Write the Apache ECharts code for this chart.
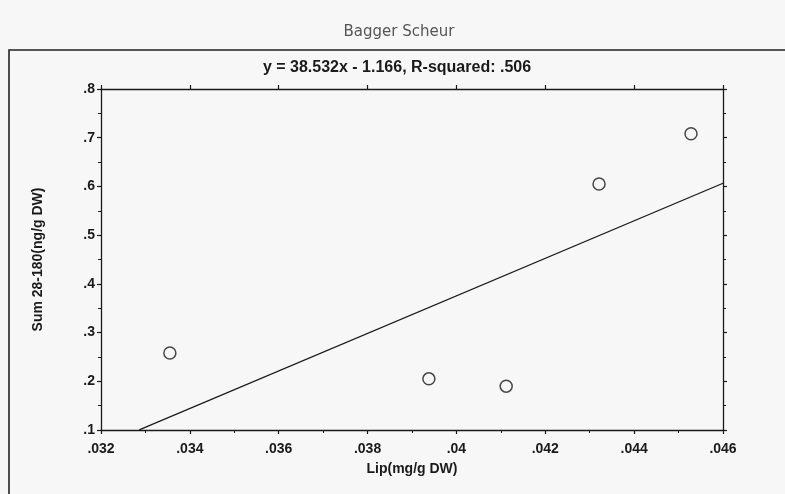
<!DOCTYPE html>
<html>
<head>
<meta charset="utf-8">
<script src="https://cdn.jsdelivr.net/npm/echarts@6/dist/echarts.min.js"></script>
<style>
  html, body { margin: 0; padding: 0; background: #f7f7f7; }
  #chart { width: 785px; height: 494px; }
</style>
</head>
<body>
<div id="chart"></div>
<script>
// Lipid content vs. summed PCB 28-180, Bagger Scheur samples
const lipValues = [0.03355, 0.03938, 0.04112, 0.04321, 0.04528];
const sumValues = [0.258, 0.205, 0.190, 0.605, 0.708];

// Fitted regression: y = 38.532x - 1.166
const fitSlope = 38.532;
const fitIntercept = -1.166;
const fitXRange = [0.03286, 0.046];

const xTicks = [0.032, 0.034, 0.036, 0.038, 0.040, 0.042, 0.044, 0.046];
const yTicks = [0.1, 0.2, 0.3, 0.4, 0.5, 0.6, 0.7, 0.8];

const points = lipValues.map((x, i) => [x, sumValues[i]]);
const fitLine = fitXRange.map(x => [x, fitSlope * x + fitIntercept]);

// ".032" style labels without the leading zero
const noLeadZero = v => {
  let s = String(+v.toFixed(4));
  return s.replace(/^0\./, '.');
};

const ink = '#1a1a1a';
const labelFont = { fontFamily: 'Liberation Sans, Arial, sans-serif', fontWeight: 'bold', fontSize: 14, color: ink };

const baseAxis = {
  axisLine: { show: true, lineStyle: { color: ink, width: 1.3 } },
  axisTick: { show: true, length: 4, lineStyle: { color: ink, width: 1.2 } },
  minorTick: { show: true, splitNumber: 2, length: 3, lineStyle: { color: ink, width: 1 } },
  splitLine: { show: false }
};

const chart = echarts.init(document.getElementById('chart'), null, { renderer: 'canvas' });
chart.setOption({
  backgroundColor: '#f7f7f7',
  animation: false,
  title: [
    {
      text: 'Bagger Scheur', left: 394, top: 20, textAlign: 'center',
      textStyle: { fontFamily: 'DejaVu Sans', fontWeight: 'normal', fontSize: 15, color: '#555' }
    },
    {
      text: 'y = 38.532x - 1.166, R-squared: .506', left: 392, top: 55, textAlign: 'center',
      textStyle: { fontFamily: 'Liberation Sans, sans-serif', fontWeight: 'bold', fontSize: 16, color: ink }
    }
  ],
  graphic: [
    {
      type: 'polyline',
      shape: { points: [[9, 494], [9, 50], [785, 50]] },
      style: { stroke: '#222', lineWidth: 1.6, fill: null }
    }
  ],
  grid: { left: 101, right: 62, top: 89, bottom: 64 },
  xAxis: [
    Object.assign({}, baseAxis, {
      type: 'value', position: 'bottom', min: 0.032, max: 0.046, interval: 0.002,
      name: 'Lip(mg/g DW)', nameLocation: 'middle', nameGap: 32,
      nameTextStyle: labelFont,
      axisLabel: Object.assign({ margin: 12, formatter: v => noLeadZero(v) }, labelFont)
    }),
    Object.assign({}, baseAxis, {
      type: 'value', position: 'top', min: 0.032, max: 0.046, interval: 0.002,
      axisLabel: { show: false }, minorTick: { show: false }
    })
  ],
  yAxis: [
    Object.assign({}, baseAxis, {
      type: 'value', position: 'left', min: 0.1, max: 0.8, interval: 0.1,
      name: 'Sum 28-180(ng/g DW)', nameLocation: 'middle', nameGap: 56,
      nameTextStyle: labelFont,
      axisLabel: Object.assign({ margin: 6, formatter: v => noLeadZero(v) }, labelFont)
    }),
    Object.assign({}, baseAxis, {
      type: 'value', position: 'right', min: 0.1, max: 0.8, interval: 0.1,
      axisLabel: { show: false }
    })
  ],
  series: [
    {
      type: 'line', data: fitLine, xAxisIndex: 0, yAxisIndex: 0,
      symbol: 'none', lineStyle: { color: ink, width: 1.3 }, silent: true
    },
    {
      type: 'scatter', data: points, xAxisIndex: 0, yAxisIndex: 0,
      symbol: 'circle', symbolSize: 12,
      itemStyle: { color: 'rgba(0,0,0,0)', borderColor: ink, borderWidth: 1.5 }
    }
  ]
});
</script>
</body>
</html>
